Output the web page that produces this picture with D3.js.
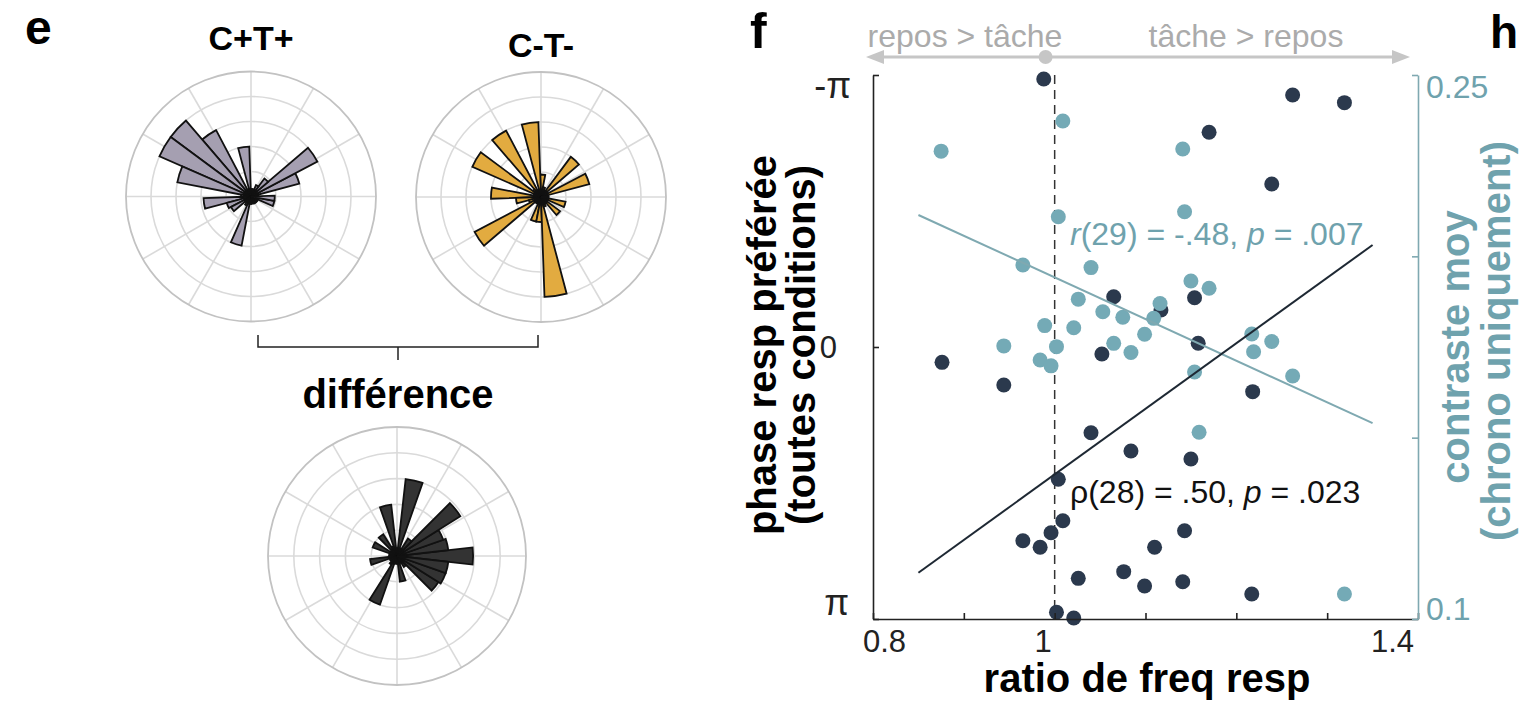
<!DOCTYPE html>
<html><head><meta charset="utf-8">
<script src="https://cdn.jsdelivr.net/npm/d3@7"></script>
<style>body{margin:0;background:#fff} text{font-family:"Liberation Sans",Arial,sans-serif}</style>
</head><body>
<svg id="c" width="1521" height="704"></svg>
<script>
// ---------------- DATA ----------------
const binCount = 28;
// polar histogram bin heights (in grid-ring units, outer ring = 5)
const ctpBins  = [0.3,2.0,3.0,0.9,0.5,0.3,0.3,2.0,0.3,3.0,4.0,4.0,3.0,0.4,1.9,1.0,0.9,0.3,0.4,2.0,0.3,0.2,0.3,0.3,0.3,0.3,0.95,0.95];
const ctmBins  = [0.3,2.0,0.3,2.0,0.3,0.4,0.9,3.0,0.3,3.0,0.4,3.0,0.3,2.0,1.0,0.5,3.0,0.3,0.3,1.0,1.0,4.0,0.4,0.3,0.95,0.3,1.0,0.3];
const diffBins = [2.95,2.0,1.9,2.9,0.8,0.3,3.0,0.3,2.0,0.4,1.0,0.3,1.0,0.3,0.3,1.05,0.3,0.3,0.4,2.0,0.3,0.3,1.0,0.3,0.5,1.9,2.0,2.0];
const binOffsetDeg = [2, 2, -6.43];
const ringValues = [1,2,3,4,5];
const spokeAnglesDeg = [0,30,60,90,120,150,180,210,240,270,300,330];
const polarTitles = ["C+T+","C-T-"];

// scatter
const ratioTicks = [0.8,0.9,1.0,1.1,1.2,1.3,1.4];
const ratioTickLabels = ["0.8","","1","","","","1.4"];
const phaseTicks = [-Math.PI, 0, Math.PI];
const phaseTickLabels = ["-π","0","π"];
const contrastTicks = [0.1,0.15,0.2,0.25];
const contrastTickLabels = ["0.1","","","0.25"];

const darkRatio = [0.988,1.262,1.319,1.170,1.239,1.065,1.154,1.117,1.158,1.052,0.876,0.944,1.218,1.040,1.084,1.150,1.004,1.009,0.996,0.965,0.984,1.143,1.110,1.026,1.076,1.099,1.141,1.217,1.002,1.021];
const darkPhase = [-3.095,-2.911,-2.822,-2.480,-1.883,-0.581,-0.569,-0.427,-0.043,0.081,0.177,0.439,0.516,0.990,1.201,1.294,1.528,2.006,2.145,2.237,2.313,2.122,2.313,2.672,2.595,2.760,2.711,2.853,3.064,3.130];

const tealRatio = [0.875,1.009,1.004,1.141,1.143,0.965,1.040,1.150,1.170,1.026,1.116,1.053,1.075,1.109,0.989,1.021,1.099,1.065,0.944,1.002,1.084,0.984,0.996,1.154,1.217,1.219,1.159,1.239,1.262,1.319];
const tealContrast = [0.229,0.2373,0.2109,0.2296,0.2123,0.1976,0.1969,0.1932,0.1912,0.1882,0.1870,0.1847,0.1832,0.1829,0.1809,0.1803,0.1785,0.1760,0.1753,0.1751,0.1735,0.1714,0.1698,0.1681,0.1786,0.1737,0.1515,0.1765,0.1670,0.1069];

const darkFitRatio = [0.85, 1.35];
const darkFitPhase = [2.607, -1.178];
const tealFitRatio = [0.85, 1.35];
const tealFitContrast = [0.2114, 0.154];

// ---------------- DRAW ----------------
const svg = d3.select("#c");
const TEAL = "#74aab6", TEAL_TXT = "#6fa2ad", DARK = "#2b394d";

function polar(cx, cy, R, bins, offset, fill) {
  const g = svg.append("g").attr("transform", `translate(${cx},${cy})`);
  const r = d3.scaleLinear().domain([0, 5]).range([0, R]);
  g.selectAll("line.spoke").data(spokeAnglesDeg).join("line")
    .attr("x1", 0).attr("y1", 0)
    .attr("x2", d => R * Math.cos(d * Math.PI / 180))
    .attr("y2", d => -R * Math.sin(d * Math.PI / 180))
    .attr("stroke", "#dadada").attr("stroke-width", 1.6);
  g.selectAll("circle.ring").data(ringValues).join("circle")
    .attr("r", d => r(d)).attr("fill", "none")
    .attr("stroke", d => d === 5 ? "#c2c2c2" : "#dadada").attr("stroke-width", d => d === 5 ? 1.8 : 1.6);
  const w = 360 / binCount;
  const arc = d3.arc().innerRadius(0);
  g.selectAll("path.wedge").data(bins).join("path")
    .attr("d", (v, k) => {
      const t1 = offset + k * w, t2 = t1 + w;
      return arc({outerRadius: r(v), startAngle: (90 - t2) * Math.PI / 180, endAngle: (90 - t1) * Math.PI / 180});
    })
    .attr("fill", fill).attr("stroke", "#111").attr("stroke-width", 1.8).attr("stroke-linejoin", "miter");
}
polar(251, 196.5, 125, ctpBins, binOffsetDeg[0], "#a59fb1");
polar(541, 197, 125, ctmBins, binOffsetDeg[1], "#e2ab40");
polar(397, 556, 129, diffBins, binOffsetDeg[2], "#333333");

// panel e texts
svg.append("text").attr("x", 25).attr("y", 44).attr("font-size", 48).attr("font-weight", "bold").text("e");
svg.append("text").attr("x", 251).attr("y", 50).attr("text-anchor", "middle").attr("font-size", 34).attr("font-weight", "bold").text(polarTitles[0]);
svg.append("text").attr("x", 541).attr("y", 57).attr("text-anchor", "middle").attr("font-size", 34).attr("font-weight", "bold").text(polarTitles[1]);
svg.append("path").attr("d", "M258,335V347H538V335M398,347V360").attr("fill", "none").attr("stroke", "#222").attr("stroke-width", 1.5);
svg.append("text").attr("x", 398).attr("y", 408).attr("text-anchor", "middle").attr("font-size", 40).attr("font-weight", "bold").text("différence");

// ---------- scatter f ----------
const x = d3.scaleLinear().domain([0.8, 1.4]).range([873, 1418]);
const yP = d3.scaleLinear().domain([-Math.PI, Math.PI]).range([75, 619]);
const yC = d3.scaleLinear().domain([0.1, 0.25]).range([619, 75]);

// dashed line at ratio 1
svg.append("line").attr("x1", x(1)).attr("x2", x(1)).attr("y1", 75).attr("y2", 619)
  .attr("stroke", "#333").attr("stroke-width", 1.5).attr("stroke-dasharray", "9,6");

// points
svg.append("g").selectAll("circle").data(darkRatio).join("circle")
  .attr("cx", d => x(d)).attr("cy", (d, i) => yP(darkPhase[i])).attr("r", 7.5).attr("fill", DARK);
svg.append("g").selectAll("circle").data(tealRatio).join("circle")
  .attr("cx", d => x(d)).attr("cy", (d, i) => yC(tealContrast[i])).attr("r", 7.5).attr("fill", TEAL);

// fit lines
svg.append("line").attr("x1", x(tealFitRatio[0])).attr("x2", x(tealFitRatio[1]))
  .attr("y1", yC(tealFitContrast[0])).attr("y2", yC(tealFitContrast[1])).attr("stroke", "#7fa9b1").attr("stroke-width", 2);
svg.append("line").attr("x1", x(darkFitRatio[0])).attr("x2", x(darkFitRatio[1]))
  .attr("y1", yP(darkFitPhase[0])).attr("y2", yP(darkFitPhase[1])).attr("stroke", "#1e2833").attr("stroke-width", 2);

// axes
const axL = svg.append("g").attr("transform", "translate(873,0)")
  .call(d3.axisLeft(yP).tickValues(phaseTicks).tickSizeInner(-6).tickSizeOuter(0).tickFormat((d, i) => phaseTickLabels[i]));
axL.select(".domain").attr("stroke", "#222").attr("stroke-width", 1.6);
axL.selectAll(".tick line").attr("stroke", "#222").attr("stroke-width", 1.6);
axL.selectAll(".tick text").attr("fill", "#222").attr("font-size", 36)
  .attr("font-family", (d, i) => i === 1 ? "Liberation Sans, Arial, sans-serif" : "Liberation Serif, Times New Roman, serif")
  .attr("x", (d, i) => [-22, -36, -24][i]).attr("dy", (d, i) => ["0.62em", "0.35em", "-0.12em"][i]);
axL.selectAll(".tick text").filter((d, i) => i === 1).attr("font-size", 31);

const axB = svg.append("g").attr("transform", "translate(0,619)")
  .call(d3.axisBottom(x).tickValues(ratioTicks).tickSizeInner(-6).tickSizeOuter(0).tickFormat((d, i) => ratioTickLabels[i]));
axB.select(".domain").attr("stroke", "#222").attr("stroke-width", 1.6);
axB.selectAll(".tick line").attr("stroke", "#222").attr("stroke-width", 1.6);
axB.selectAll(".tick text").attr("fill", "#222").attr("font-size", 31).attr("y", 33).attr("dy", 0)
  .attr("dx", (d, i) => [11, 0, -12, 0, 0, 0, -26][i]);

const axR = svg.append("g").attr("transform", "translate(1418,0)")
  .call(d3.axisRight(yC).tickValues(contrastTicks).tickSizeInner(-6).tickSizeOuter(0).tickFormat((d, i) => contrastTickLabels[i]));
axR.select(".domain").attr("stroke", "#7fa9b1").attr("stroke-width", 1.6);
axR.selectAll(".tick line").attr("stroke", "#7fa9b1").attr("stroke-width", 1.6);
axR.selectAll(".tick text").attr("fill", TEAL_TXT).attr("font-size", 32).attr("x", 8)
  .attr("dy", (d, i) => ["-0.0em", "0", "0", "0.7em"][i]);

// top arrow annotation
const ay = 57;
svg.append("line").attr("x1", x(0.8) + 8).attr("x2", x(1.4) - 22).attr("y1", ay).attr("y2", ay).attr("stroke", "#c6c6c6").attr("stroke-width", 3);
svg.append("path").attr("d", `M${x(0.8) - 7},${ay}L${x(0.8) + 11},${ay - 7}L${x(0.8) + 11},${ay + 7}Z`).attr("fill", "#c6c6c6");
svg.append("path").attr("d", `M${x(1.4) - 8},${ay}L${x(1.4) - 26},${ay - 7}L${x(1.4) - 26},${ay + 7}Z`).attr("fill", "#c6c6c6");
svg.append("circle").attr("cx", x(0.99)).attr("cy", ay).attr("r", 7).attr("fill", "#c6c6c6");
svg.append("text").attr("x", 965).attr("y", 47).attr("text-anchor", "middle").attr("font-size", 32).attr("fill", "#ababab").text("repos > tâche");
svg.append("text").attr("x", 1246).attr("y", 47).attr("text-anchor", "middle").attr("font-size", 32).attr("fill", "#ababab").text("tâche > repos");

// stats
const t1 = svg.append("text").attr("x", 1070).attr("y", 245).attr("font-size", 32).attr("fill", TEAL_TXT);
t1.append("tspan").attr("font-style", "italic").text("r");
t1.append("tspan").text("(29) = -.48, ");
t1.append("tspan").attr("font-style", "italic").text("p");
t1.append("tspan").text(" = .007");
const t2 = svg.append("text").attr("x", 1070).attr("y", 503).attr("font-size", 32).attr("fill", "#111");
t2.append("tspan").text("ρ(28) = .50, ");
t2.append("tspan").attr("font-style", "italic").text("p");
t2.append("tspan").text(" = .023");

// axis titles
svg.append("text").attr("x", 1147).attr("y", 692).attr("text-anchor", "middle").attr("font-size", 40).attr("font-weight", "bold").text("ratio de freq resp");
svg.append("text").attr("transform", "translate(776,345) rotate(-90)").attr("text-anchor", "middle").attr("font-size", 40).attr("font-weight", "bold").text("phase resp préférée");
svg.append("text").attr("transform", "translate(815,345) rotate(-90)").attr("text-anchor", "middle").attr("font-size", 40).attr("font-weight", "bold").text("(toutes conditions)");
svg.append("text").attr("transform", "translate(1469,347) rotate(-90)").attr("text-anchor", "middle").attr("font-size", 40).attr("font-weight", "bold").attr("fill", TEAL_TXT).text("contraste moy");
svg.append("text").attr("transform", "translate(1510,341) rotate(-90)").attr("text-anchor", "middle").attr("font-size", 40).attr("font-weight", "bold").attr("fill", TEAL_TXT).text("(chrono uniquement)");

// panel letters
svg.append("text").attr("x", 750).attr("y", 48).attr("font-size", 50).attr("font-weight", "bold").text("f");
svg.append("text").attr("x", 1490).attr("y", 48).attr("font-size", 46).attr("font-weight", "bold").text("h");
</script>
</body></html>
